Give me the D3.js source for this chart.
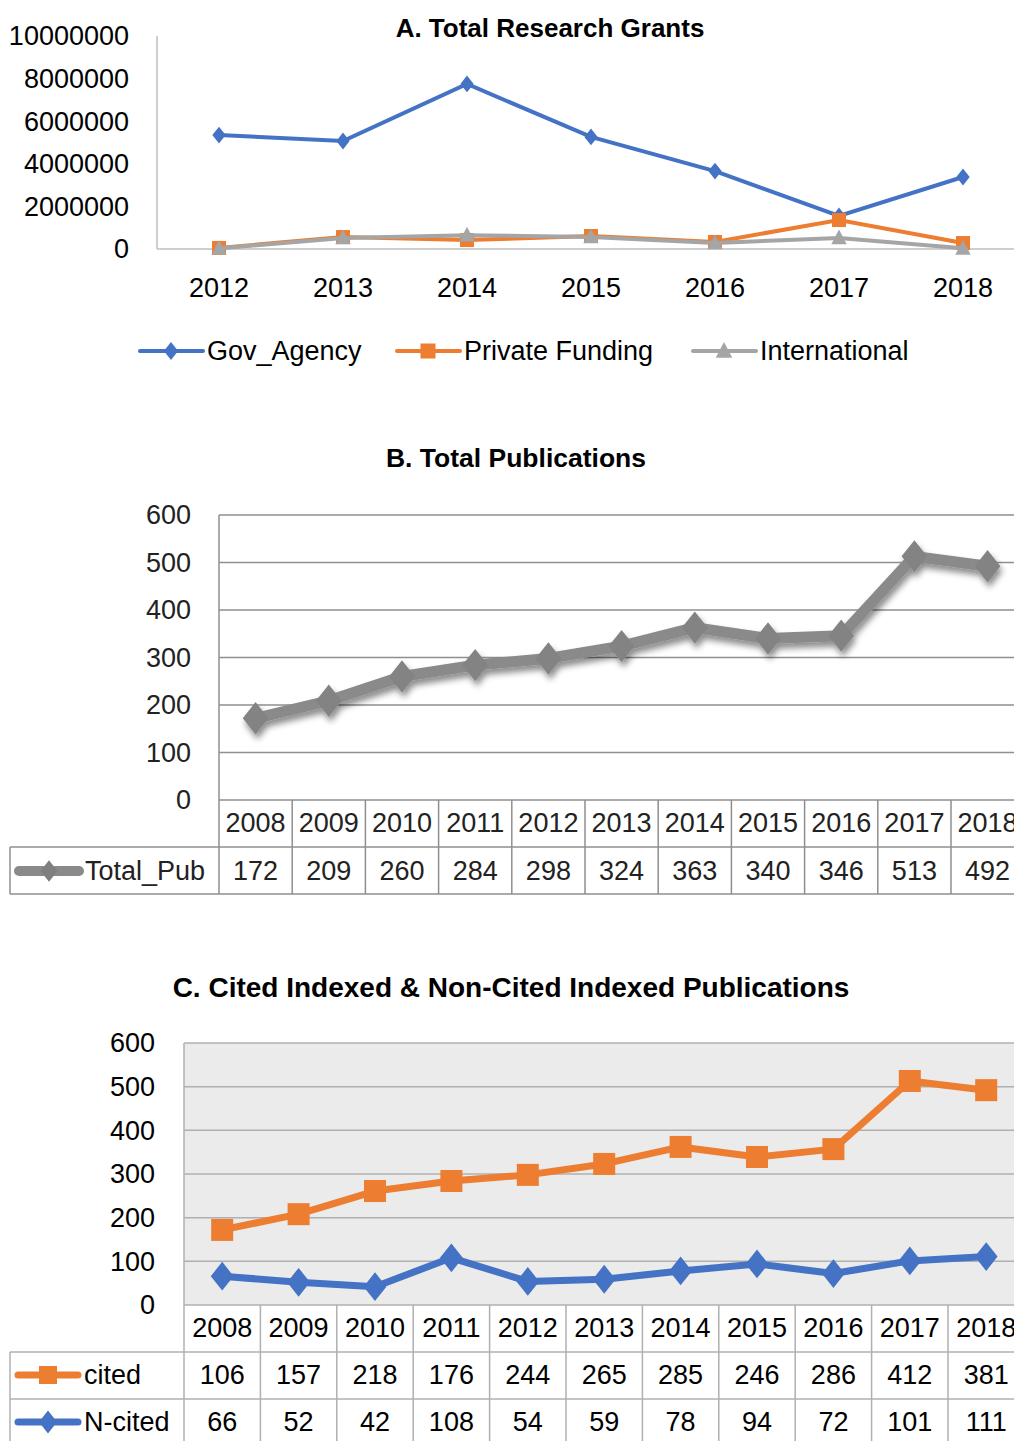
<!DOCTYPE html>
<html>
<head>
<meta charset="utf-8">
<script src="https://cdn.jsdelivr.net/npm/d3@7"></script>
<style>
  body { margin: 0; background: #fff; }
  svg { display: block; font-family: "Liberation Sans", Arial, sans-serif; }
</style>
</head>
<body>
<svg id="chart" width="1014" height="1441"></svg>
<script>
// ---- chart A data
const grantYears = [2012, 2013, 2014, 2015, 2016, 2017, 2018]
const govAgency = [5350000, 5070000, 7750000, 5260000, 3660000, 1550000, 3380000]
const privateFunding = [50000, 560000, 420000, 610000, 330000, 1360000, 280000]
const international = [30000, 520000, 650000, 560000, 280000, 520000, 30000]
const grantTicks = [0, 2000000, 4000000, 6000000, 8000000, 10000000]

// ---- chart B data
const pubYears = [2008, 2009, 2010, 2011, 2012, 2013, 2014, 2015, 2016, 2017, 2018]
const totalPub = [172, 209, 260, 284, 298, 324, 363, 340, 346, 513, 492]
const pubTicks = [0, 100, 200, 300, 400, 500, 600]

// ---- chart C data (plotted orange line differs from its table row in the original)
const citedLine = [172, 208, 261, 284, 298, 323, 362, 339, 357, 513, 492]
const citedTable = [106, 157, 218, 176, 244, 265, 285, 246, 286, 412, 381]
const nCited = [66, 52, 42, 108, 54, 59, 78, 94, 72, 101, 111]

const BLUE = "#4472c4", ORANGE = "#ed7d31", GRAY = "#a5a5a5", DARKGRAY = "#8a8a8a"
const svg = d3.select("#chart")

// shadow for chart B
const defs = svg.append("defs")
defs.append("filter").attr("id", "shadow").attr("x", "-20%").attr("y", "-20%").attr("width", "140%").attr("height", "160%")
    .append("feDropShadow").attr("dx", 2).attr("dy", 5).attr("stdDeviation", 3)
    .attr("flood-color", "#000").attr("flood-opacity", 0.45)

function diamond(cx, cy, w, h) {
    return "M" + cx + "," + (cy - h / 2) + "L" + (cx + w / 2) + "," + cy + "L" + cx + "," + (cy + h / 2) + "L" + (cx - w / 2) + "," + cy + "Z"
}
function triangle(cx, cy, s) {
    return "M" + cx + "," + (cy - s * 0.6) + "L" + (cx + s * 0.55) + "," + (cy + s * 0.45) + "L" + (cx - s * 0.55) + "," + (cy + s * 0.45) + "Z"
}
function drawMarker(g, type, cx, cy, size, color) {
    if (type === "diamond") g.append("path").attr("d", diamond(cx, cy, size * 0.95, size * 1.2)).attr("fill", color)
    else if (type === "square") g.append("rect").attr("x", cx - size / 2).attr("y", cy - size / 2).attr("width", size).attr("height", size).attr("fill", color)
    else g.append("path").attr("d", triangle(cx, cy, size)).attr("fill", color)
}

// ================= A. Total Research Grants =================
const gA = svg.append("g")
const xA = d3.scaleBand().domain(grantYears).range([157, 157 + 7 * 124])
const yA = d3.scaleLinear().domain([0, 10000000]).range([249, 36])

gA.append("text").attr("x", 550).attr("y", 28).attr("text-anchor", "middle").attr("dy", "0.35em")
    .attr("font-weight", "bold").attr("font-size", 26).text("A.  Total Research Grants")

gA.append("line").attr("x1", 157).attr("x2", 157).attr("y1", 36).attr("y2", 249).attr("stroke", "#bfbfbf").attr("stroke-width", 1.5)
gA.append("line").attr("x1", 157).attr("x2", 1014).attr("y1", 249).attr("y2", 249).attr("stroke", "#bfbfbf").attr("stroke-width", 1.5)

gA.selectAll(".ytA").data(grantTicks).join("text")
    .attr("x", 129).attr("y", d => yA(d)).attr("dy", "0.35em").attr("text-anchor", "end")
    .attr("font-size", 27).text(d => d)
gA.selectAll(".xtA").data(grantYears).join("text")
    .attr("x", d => xA(d) + xA.bandwidth() / 2).attr("y", 288).attr("dy", "0.35em").attr("text-anchor", "middle")
    .attr("font-size", 27).text(d => d)

const seriesA = [
    {name: "Gov_Agency", values: govAgency, color: BLUE, marker: "diamond", lx: 140},
    {name: "Private Funding", values: privateFunding, color: ORANGE, marker: "square", lx: 397},
    {name: "International", values: international, color: GRAY, marker: "triangle", lx: 693}
]
const lineA = d3.line().x((d, i) => xA(grantYears[i]) + xA.bandwidth() / 2).y(d => yA(d))

seriesA.forEach(s => {
    gA.append("path").attr("d", lineA(s.values)).attr("fill", "none").attr("stroke", s.color).attr("stroke-width", 4)
    s.values.forEach((v, i) => drawMarker(gA, s.marker, xA(grantYears[i]) + xA.bandwidth() / 2, yA(v), 14, s.color))
    // legend
    gA.append("line").attr("x1", s.lx).attr("x2", s.lx + 63).attr("y1", 351).attr("y2", 351)
        .attr("stroke", s.color).attr("stroke-width", 4).attr("stroke-linecap", "round")
    drawMarker(gA, s.marker, s.lx + 31, 351, 15, s.color)
    gA.append("text").attr("x", s.lx + 67).attr("y", 351).attr("dy", "0.35em").attr("font-size", 27).text(s.name)
})

// ================= B. Total Publications =================
const gB = svg.append("g")
const xB = d3.scaleBand().domain(pubYears).range([219, 219 + 11 * 73.2])
const yB = d3.scaleLinear().domain([0, 600]).range([800, 515])

gB.append("text").attr("x", 516).attr("y", 458).attr("text-anchor", "middle").attr("dy", "0.35em")
    .attr("font-weight", "bold").attr("font-size", 26.5).text("B. Total Publications")

gB.selectAll(".gridB").data(pubTicks).join("line")
    .attr("x1", 219).attr("x2", 1014).attr("y1", d => yB(d)).attr("y2", d => yB(d))
    .attr("stroke", "#8f8f8f").attr("stroke-width", 1.5)
gB.selectAll(".ytB").data(pubTicks).join("text")
    .attr("x", 191).attr("y", d => yB(d)).attr("dy", "0.35em").attr("text-anchor", "end")
    .attr("font-size", 27).attr("fill", "#222").text(d => d)

// table B
const tabB = "#8f8f8f"
gB.append("line").attr("x1", 219).attr("x2", 219).attr("y1", 515).attr("y2", 894).attr("stroke", tabB).attr("stroke-width", 1.5)
gB.selectAll(".vB").data(pubYears).join("line")
    .attr("x1", d => xB(d) + xB.bandwidth()).attr("x2", d => xB(d) + xB.bandwidth())
    .attr("y1", 800).attr("y2", 894).attr("stroke", tabB).attr("stroke-width", 1.5)
gB.append("line").attr("x1", 10).attr("x2", 1014).attr("y1", 847).attr("y2", 847).attr("stroke", tabB).attr("stroke-width", 1.5)
gB.append("line").attr("x1", 10).attr("x2", 1014).attr("y1", 894).attr("y2", 894).attr("stroke", tabB).attr("stroke-width", 1.5)
gB.append("line").attr("x1", 10).attr("x2", 10).attr("y1", 847).attr("y2", 894).attr("stroke", tabB).attr("stroke-width", 1.5)
gB.selectAll(".xtB").data(pubYears).join("text")
    .attr("x", d => xB(d) + xB.bandwidth() / 2).attr("y", 823).attr("dy", "0.35em").attr("text-anchor", "middle")
    .attr("font-size", 27).attr("fill", "#222").text(d => d)
gB.selectAll(".valB").data(totalPub).join("text")
    .attr("x", (d, i) => xB(pubYears[i]) + xB.bandwidth() / 2).attr("y", 871).attr("dy", "0.35em").attr("text-anchor", "middle")
    .attr("font-size", 27).attr("fill", "#222").text(d => d)
gB.append("line").attr("x1", 19).attr("x2", 79).attr("y1", 871).attr("y2", 871)
    .attr("stroke", DARKGRAY).attr("stroke-width", 10).attr("stroke-linecap", "round")
drawMarker(gB, "diamond", 49, 871, 18, "#7f7f7f")
gB.append("text").attr("x", 85).attr("y", 871).attr("dy", "0.35em").attr("font-size", 27).attr("fill", "#222").text("Total_Pub")

const lineB = d3.line().x((d, i) => xB(pubYears[i]) + xB.bandwidth() / 2).y(d => yB(d))
const serB = gB.append("g").attr("filter", "url(#shadow)")
serB.append("path").attr("d", lineB(totalPub)).attr("fill", "none").attr("stroke", DARKGRAY)
    .attr("stroke-width", 11).attr("stroke-linejoin", "round")
totalPub.forEach((v, i) => drawMarker(serB, "diamond", xB(pubYears[i]) + xB.bandwidth() / 2, yB(v), 27, "#838383"))

// ================= C. Cited / Non-cited =================
const gC = svg.append("g")
const xC = d3.scaleBand().domain(pubYears).range([184, 184 + 11 * 76.4])
const yC = d3.scaleLinear().domain([0, 600]).range([1305, 1043])

gC.append("text").attr("x", 511).attr("y", 987).attr("text-anchor", "middle").attr("dy", "0.35em")
    .attr("font-weight", "bold").attr("font-size", 28).text("C. Cited Indexed & Non-Cited Indexed Publications")

gC.append("rect").attr("x", 184).attr("y", 1043).attr("width", 1014 - 184).attr("height", 1305 - 1043).attr("fill", "#ebebeb")
gC.selectAll(".gridC").data(pubTicks).join("line")
    .attr("x1", 184).attr("x2", 1014).attr("y1", d => yC(d)).attr("y2", d => yC(d))
    .attr("stroke", "#b0b0b0").attr("stroke-width", 1.5)
gC.selectAll(".ytC").data(pubTicks).join("text")
    .attr("x", 155).attr("y", d => yC(d)).attr("dy", "0.35em").attr("text-anchor", "end")
    .attr("font-size", 27).text(d => d)

const tabC = "#b0b0b0"
gC.append("line").attr("x1", 184).attr("x2", 184).attr("y1", 1043).attr("y2", 1441).attr("stroke", tabC).attr("stroke-width", 1.5)
gC.selectAll(".vC").data(pubYears).join("line")
    .attr("x1", d => xC(d) + xC.bandwidth()).attr("x2", d => xC(d) + xC.bandwidth())
    .attr("y1", 1305).attr("y2", 1441).attr("stroke", tabC).attr("stroke-width", 1.5)
;[1352, 1399].forEach(y => gC.append("line").attr("x1", 10).attr("x2", 1014).attr("y1", y).attr("y2", y).attr("stroke", tabC).attr("stroke-width", 1.5))
gC.append("line").attr("x1", 10).attr("x2", 10).attr("y1", 1352).attr("y2", 1441).attr("stroke", tabC).attr("stroke-width", 1.5)

gC.selectAll(".xtC").data(pubYears).join("text")
    .attr("x", d => xC(d) + xC.bandwidth() / 2).attr("y", 1328).attr("dy", "0.35em").attr("text-anchor", "middle")
    .attr("font-size", 27).text(d => d)

const rowsC = [
    {name: "cited", table: citedTable, line: citedLine, color: ORANGE, marker: "square", y: 1375},
    {name: "N-cited", table: nCited, line: nCited, color: BLUE, marker: "diamond", y: 1422}
]
const lineC = d3.line().x((d, i) => xC(pubYears[i]) + xC.bandwidth() / 2).y(d => yC(d))
rowsC.forEach(r => {
    gC.selectAll(".val" + r.name).data(r.table).join("text")
        .attr("x", (d, i) => xC(pubYears[i]) + xC.bandwidth() / 2).attr("y", r.y).attr("dy", "0.35em").attr("text-anchor", "middle")
        .attr("font-size", 27).text(d => d)
    gC.append("line").attr("x1", 18).attr("x2", 78).attr("y1", r.y).attr("y2", r.y)
        .attr("stroke", r.color).attr("stroke-width", 7).attr("stroke-linecap", "round")
    drawMarker(gC, r.marker, 48, r.y, r.marker === "square" ? 18 : 19, r.color)
    gC.append("text").attr("x", 84).attr("y", r.y).attr("dy", "0.35em").attr("font-size", 27).text(r.name)

    gC.append("path").attr("d", lineC(r.line)).attr("fill", "none").attr("stroke", r.color)
        .attr("stroke-width", 7).attr("stroke-linejoin", "round")
    r.line.forEach((v, i) => drawMarker(gC, r.marker, xC(pubYears[i]) + xC.bandwidth() / 2, yC(v), r.marker === "square" ? 22 : 24, r.color))
})
</script>
</body>
</html>
